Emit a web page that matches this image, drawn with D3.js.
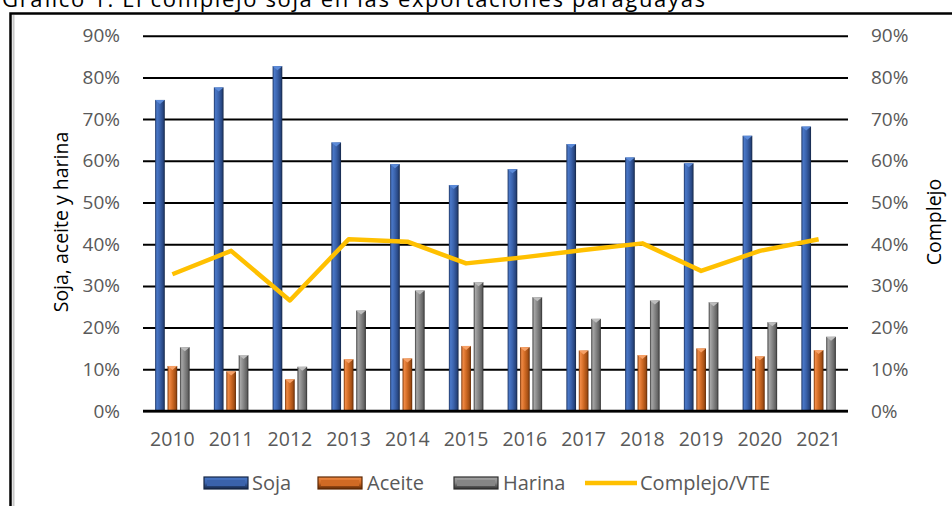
<!DOCTYPE html>
<html>
<head>
<meta charset="utf-8">
<script src="https://cdn.jsdelivr.net/npm/d3@7"></script>
<style>
  html, body { margin: 0; padding: 0; background: #fff; }
  svg { display: block; font-family: "Open Sans", "Noto Sans", sans-serif; }
</style>
</head>
<body>
<svg id="chart" width="952" height="506"></svg>
<script>
// Participación del complejo soja en las exportaciones (en %)
const years = ["2010","2011","2012","2013","2014","2015","2016","2017","2018","2019","2020","2021"];
const soja    = [74.6, 77.6, 82.7, 64.4, 59.2, 54.2, 58.0, 64.0, 60.8, 59.4, 66.0, 68.2];
const aceite  = [10.8,  9.5,  7.6, 12.4, 12.6, 15.6, 15.3, 14.5, 13.4, 15.0, 13.1, 14.6];
const harina  = [15.3, 13.4, 10.6, 24.1, 28.9, 30.9, 27.3, 22.1, 26.5, 26.1, 21.3, 17.8];
const complejo = [32.8, 38.4, 26.5, 41.2, 40.6, 35.4, 36.9, 38.6, 40.2, 33.6, 38.4, 41.2];
const tickValues = [0, 10, 20, 30, 40, 50, 60, 70, 80, 90];
const seriesNames = ["Soja", "Aceite", "Harina"];
const lineName = "Complejo/VTE";
const leftTitle = "Soja, aceite y harina";
const rightTitle = "Complejo";
const titleText = "Gráfico 1: El complejo soja en las exportaciones paraguayas";

const svg = d3.select("#chart");
const plot = { left: 143, right: 848, top: 35.7, bottom: 411 };

const x = d3.scaleBand().domain(years).range([plot.left, plot.right]).padding(0);
const xs = d3.scaleBand().domain(seriesNames).range([-20, 20]).padding(0.22);
const y = d3.scaleLinear().domain([0, 90]).range([plot.bottom, plot.top]);
const yR = d3.scaleLinear().domain([0, 90]).range([plot.bottom, plot.top]);

// gradients giving the bars their bevelled look
const defs = svg.append("defs");
const palettes = {
  Soja:   ["#1c3361", "#4a78c8", "#3a62ab", "#27457f", "#142544"],
  Aceite: ["#7a3508", "#f08a45", "#d06a24", "#a24e14", "#5e2804"],
  Harina: ["#3a3a3a", "#a6a6a6", "#858585", "#636363", "#2e2e2e"]
};
Object.entries(palettes).forEach(([name, c]) => {
  const g = defs.append("linearGradient").attr("id", "g-" + name)
    .attr("x1", "0%").attr("x2", "100%").attr("y1", "0%").attr("y2", "0%");
  [[0, c[0]], [0.18, c[1]], [0.5, c[2]], [0.82, c[3]], [1, c[4]]].forEach(([o, col]) =>
    g.append("stop").attr("offset", o).attr("stop-color", col));
  const v = defs.append("linearGradient").attr("id", "lg-" + name)
    .attr("x1", "0%").attr("x2", "0%").attr("y1", "0%").attr("y2", "100%");
  [[0, c[1]], [0.5, c[2]], [1, c[4]]].forEach(([o, col]) =>
    v.append("stop").attr("offset", o).attr("stop-color", col));
});
const capColor = { Soja: "#5b8ad8", Aceite: "#f6a066", Harina: "#bdbdbd" };

// title (runs past the top edge of the page)
svg.append("text")
  .attr("x", 2).attr("y", 7)
  .attr("font-size", 22).attr("fill", "#000")
  .attr("textLength", 703).attr("lengthAdjust", "spacing")
  .text(titleText);

// chart frame
svg.append("rect")
  .attr("x", 10.5).attr("y", 13.5).attr("width", 1000).attr("height", 600)
  .attr("fill", "none").attr("stroke", "#000").attr("stroke-width", 2.5);
svg.append("line")
  .attr("x1", 13.5).attr("x2", 13.5).attr("y1", 15).attr("y2", 506)
  .attr("stroke", "#c8c8c8").attr("stroke-width", 2);

// gridlines
const grid = svg.append("g").attr("transform", `translate(${plot.left},0)`)
  .call(d3.axisLeft(y).tickValues(tickValues).tickSize(-(plot.right - plot.left)).tickFormat(""));
grid.select(".domain").remove();
grid.selectAll(".tick line").attr("stroke", "#000").attr("stroke-width", 2);

// left axis labels
const axL = svg.append("g").attr("transform", `translate(${plot.left},0)`)
  .call(d3.axisLeft(y).tickValues(tickValues).tickSize(0).tickPadding(23).tickFormat(d => d + "%"));
axL.select(".domain").remove();
axL.selectAll("text").attr("font-size", 19).attr("fill", "#595959").attr("font-family", "Open Sans");

// right axis labels
const axR = svg.append("g").attr("transform", `translate(${plot.right},0)`)
  .call(d3.axisRight(yR).tickValues(tickValues).tickSize(0).tickPadding(23).tickFormat(d => d + "%"));
axR.select(".domain").remove();
axR.selectAll("text").attr("font-size", 19).attr("fill", "#595959").attr("font-family", "Open Sans");

// bars
const seriesData = { Soja: soja, Aceite: aceite, Harina: harina };
seriesNames.forEach(name => {
  const vals = seriesData[name];
  const g = svg.append("g");
  const w = xs.bandwidth();
  const bx = (d, i) => x(years[i]) + x.bandwidth() / 2 + xs(name);
  g.selectAll("rect").data(vals).join("rect")
    .attr("x", bx)
    .attr("y", d => y(d))
    .attr("width", w)
    .attr("height", d => y(0) - y(d))
    .attr("fill", `url(#g-${name})`);
  g.selectAll("path").data(vals).join("path")
    .attr("d", (d, i) => {
      const x0 = bx(d, i), t = y(d);
      return `M${x0},${t}L${x0 + w},${t}L${x0 + w / 2},${t + 4}Z`;
    })
    .attr("fill", capColor[name]);
});

// baseline
svg.append("line")
  .attr("x1", plot.left).attr("x2", plot.right)
  .attr("y1", y(0)).attr("y2", y(0))
  .attr("stroke", "#000").attr("stroke-width", 2.5);

// x axis labels
const axB = svg.append("g").attr("transform", `translate(0,${plot.bottom})`)
  .call(d3.axisBottom(x).tickSize(0).tickPadding(21));
axB.select(".domain").remove();
axB.selectAll("text").attr("font-size", 19.5).attr("fill", "#595959").attr("font-family", "Open Sans");

// Complejo/VTE line
const line = d3.line().x((d, i) => x(years[i]) + x.bandwidth() / 2).y(d => yR(d));
svg.append("path").datum(complejo)
  .attr("d", line)
  .attr("fill", "none").attr("stroke", "#FFC000").attr("stroke-width", 4.5)
  .attr("stroke-linejoin", "round");

// axis titles
svg.append("text")
  .attr("transform", "translate(68,222) rotate(-90)")
  .attr("text-anchor", "middle").attr("font-size", 19.5).attr("fill", "#000")
  .text(leftTitle);
svg.append("text")
  .attr("transform", "translate(941,222) rotate(-90)")
  .attr("text-anchor", "middle").attr("font-size", 19.5).attr("fill", "#000")
  .text(rightTitle);

// legend
const legendItems = [
  { name: "Soja", sx: 204, tx: 252 },
  { name: "Aceite", sx: 318, tx: 367 },
  { name: "Harina", sx: 454, tx: 503 }
];
const lg = svg.append("g");
legendItems.forEach(it => {
  lg.append("rect")
    .attr("x", it.sx).attr("y", 477).attr("width", 44).attr("height", 12)
    .attr("fill", `url(#lg-${it.name})`)
    .attr("stroke", palettes[it.name][4]).attr("stroke-width", 1.2);
  lg.append("rect")
    .attr("x", it.sx + 3).attr("y", 480).attr("width", 38).attr("height", 6)
    .attr("fill", palettes[it.name][2]);
  lg.append("text")
    .attr("x", it.tx).attr("y", 490)
    .attr("font-size", 20).attr("fill", "#595959")
    .text(it.name);
});
lg.append("line")
  .attr("x1", 585).attr("x2", 637).attr("y1", 483).attr("y2", 483)
  .attr("stroke", "#FFC000").attr("stroke-width", 4.5);
lg.append("text")
  .attr("x", 640).attr("y", 490)
  .attr("font-size", 20).attr("fill", "#595959")
  .text(lineName);
</script>
</body>
</html>
